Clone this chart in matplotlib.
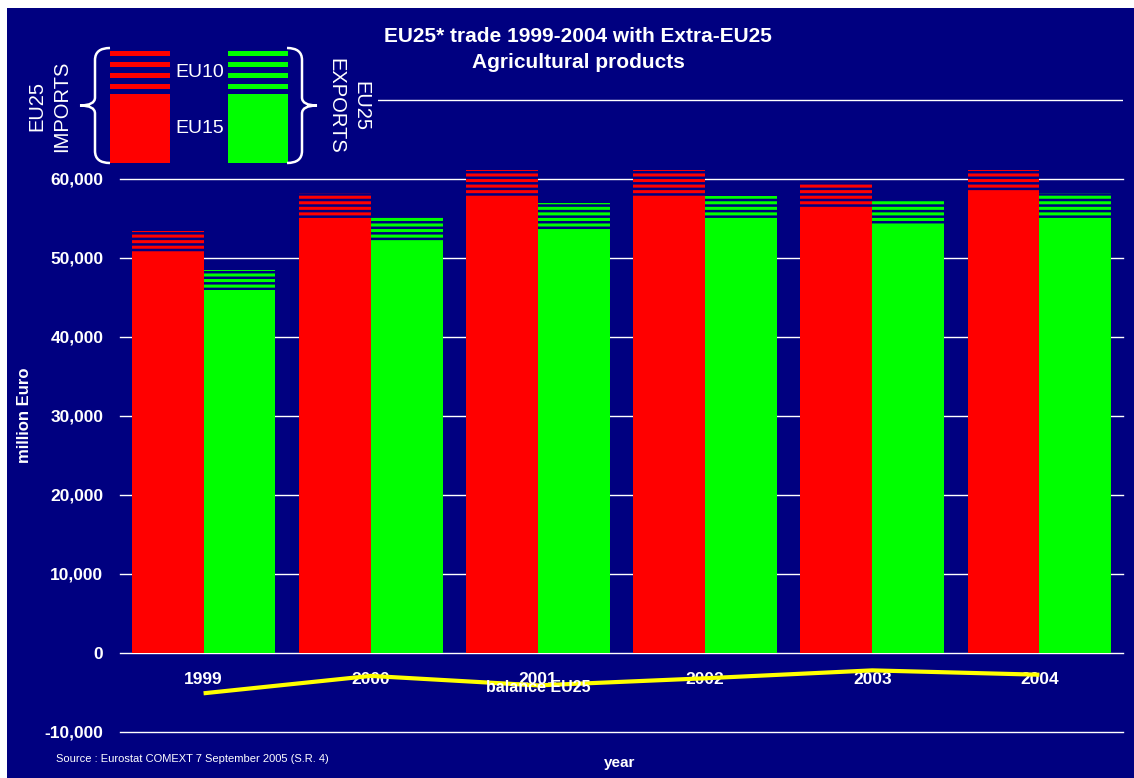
import matplotlib
matplotlib.use("Agg")
import matplotlib.pyplot as plt
from matplotlib.patches import Rectangle, PathPatch
from matplotlib.path import Path
from matplotlib.ticker import FuncFormatter

plt.rcParams['font.family'] = ['Liberation Sans', 'DejaVu Sans']
plt.rcParams['hatch.linewidth'] = 2.2

# ---- data (million Euro) ----
years = ['1999', '2000', '2001', '2002', '2003', '2004']
imports_eu15 = [50570, 54870, 57660, 57660, 56140, 58460]
imports_eu10 = [2820, 3420, 3420, 3420, 3540, 2620]
exports_eu15 = [46010, 52210, 53480, 54750, 54030, 54750]
exports_eu10 = [2530, 3040, 3460, 3160, 3370, 3500]
balance_eu25 = [-5100, -2900, -4100, -3200, -2200, -2750]
yticks = [-10000, 0, 10000, 20000, 30000, 40000, 50000, 60000]
yticks_unlabelled = [70000]

NAVY = '#000080'
RED = '#FF0000'
GREEN = '#00FF00'
YELLOW = '#FFFF00'

W, H = 1134, 778
fig = plt.figure(figsize=(W / 100, H / 100), dpi=100)
fig.patch.set_facecolor('white')
# navy background panel
fig.add_artist(Rectangle((7 / W, 0), 1 - 7 / W, 1 - 8 / H, transform=fig.transFigure,
                         facecolor=NAVY, edgecolor='none', zorder=0))

ax = fig.add_axes([120 / W, 1 - 732 / H, (1123 - 120) / W, (732 - 21) / H])
ax.set_facecolor(NAVY)
ax.patch.set_alpha(0)

x = list(range(len(years)))
bw = 0.43
xr = [i - bw / 2 for i in x]
xg = [i + bw / 2 for i in x]

ax.bar(xr, imports_eu15, width=bw, color=RED, linewidth=0, zorder=3)
ax.bar(xr, imports_eu10, width=bw, bottom=imports_eu15, facecolor=NAVY,
       edgecolor=RED, linewidth=0, hatch='---', zorder=3)
ax.bar(xg, exports_eu15, width=bw, color=GREEN, linewidth=0, zorder=3)
ax.bar(xg, exports_eu10, width=bw, bottom=exports_eu15, facecolor=NAVY,
       edgecolor=GREEN, linewidth=0, hatch='---', zorder=3)

ax.plot(x, balance_eu25, color=YELLOW, linewidth=3, solid_capstyle='butt', zorder=4)
ax.text(2, -4350, 'balance EU25', color='white', fontsize=11.5, fontweight='bold',
        ha='center', va='center', zorder=6)

ax.set_xlim(-0.5, len(years) - 0.5)
ax.set_ylim(-10000, 80000)
ax.set_yticks(yticks)
ax.set_yticks(yticks_unlabelled, minor=True)
ax.yaxis.set_major_formatter(FuncFormatter(lambda v, p: f'{int(v):,}'))
ax.set_xticks(x)
ax.set_xticklabels(years)
ax.spines['bottom'].set_position(('data', 0))
for s in ax.spines.values():
    s.set_visible(False)
ax.tick_params(axis='y', which='both', length=0, pad=12, labelcolor='white', labelsize=12.5)
ax.tick_params(axis='x', length=0, pad=14, labelcolor='white', labelsize=12.5)
for lab in ax.get_xticklabels() + ax.get_yticklabels():
    lab.set_fontweight('bold')
ax.grid(axis='y', which='both', color='white', linewidth=1, zorder=1)
for gl in ax.get_ygridlines():
    gl.set_clip_on(False)
ax.set_axisbelow(True)

# titles and labels
fig.text(578 / W, 1 - 37 / H, 'EU25* trade 1999-2004 with Extra-EU25', color='white',
         fontsize=15, fontweight='bold', ha='center', va='center')
fig.text(578 / W, 1 - 62 / H, 'Agricultural products', color='white',
         fontsize=15, fontweight='bold', ha='center', va='center')
fig.text(25 / W, 1 - 415 / H, 'million Euro', color='white', fontsize=12,
         fontweight='bold', rotation=90, ha='center', va='center')
fig.text(620 / W, 1 - 763 / H, 'year', color='white', fontsize=11,
         fontweight='bold', ha='center', va='center')
fig.text(56 / W, 1 - 759 / H, 'Source : Eurostat COMEXT 7 September 2005 (S.R. 4)',
         color='white', fontsize=8, ha='left', va='center')

# ---- legend pictogram (overlay in pixel coords) ----
ov = fig.add_axes([0, 0, 1, 1], zorder=5)
ov.set_xlim(0, W)
ov.set_ylim(H, 0)
ov.axis('off')
ov.patch.set_alpha(0)
ov.add_patch(Rectangle((8, 40), 370, 130, facecolor=NAVY, edgecolor='none'))

for x0, col in ((110, RED), (228, GREEN)):
    for y0 in (50.5, 61.5, 72.5, 83.5):
        ov.add_patch(Rectangle((x0, y0), 59.5, 5, facecolor=col, edgecolor='none'))
    ov.add_patch(Rectangle((x0, 94), 59.5, 68.5, facecolor=col, edgecolor='none'))


def brace(xe, xm, xt, y0, y1):
    ym = (y0 + y1) / 2
    verts = [(xe, y0), (xm, y0), (xm, y0 + 12),
             (xm, ym - 8),
             (xm, ym), (xt, ym),
             (xm, ym), (xm, ym + 8),
             (xm, y1 - 12),
             (xm, y1), (xe, y1)]
    codes = [Path.MOVETO, Path.CURVE3, Path.CURVE3,
             Path.LINETO,
             Path.CURVE3, Path.CURVE3,
             Path.CURVE3, Path.CURVE3,
             Path.LINETO,
             Path.CURVE3, Path.CURVE3]
    ov.add_patch(PathPatch(Path(verts, codes), facecolor='none', edgecolor='white',
                           linewidth=1.8))


brace(110, 95, 80, 48, 163)
brace(287, 302, 317, 48, 163)

ov.text(200, 72, 'EU10', color='white', fontsize=14, ha='center', va='center')
ov.text(200, 128, 'EU15', color='white', fontsize=14, ha='center', va='center')
ov.text(37, 106, 'EU25', color='white', fontsize=14.5, rotation=90,
        ha='center', va='center')
ov.text(62, 106, 'IMPORTS', color='white', fontsize=14.5, rotation=90,
        ha='center', va='center')
ov.text(336, 106, 'EXPORTS', color='white', fontsize=14.5, rotation=-90,
        ha='center', va='center')
ov.text(361, 106, 'EU25', color='white', fontsize=14.5, rotation=-90,
        ha='center', va='center')

fig.savefig('out.png', dpi=100, facecolor=fig.get_facecolor())
